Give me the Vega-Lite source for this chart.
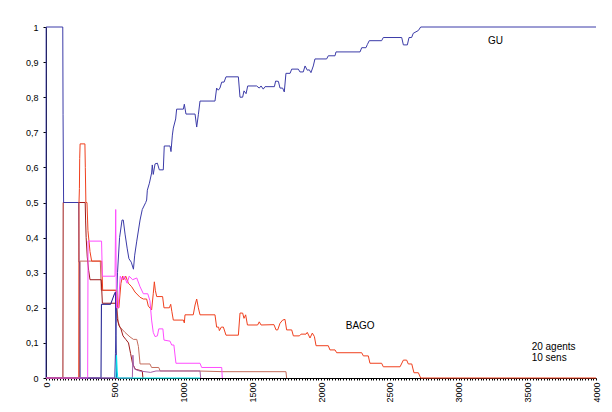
{
"$schema":"https://vega.github.io/schema/vega-lite/v6.json",
"width":599,"height":404,"autosize":"none",
"padding":{"left":13,"top":8,"right":0,"bottom":0},
"background":"white",
"config":{"view":{"stroke":null},"font":"Liberation Sans"},
"datasets":{
"lines":[
{"s":"salmon","x":0,"y":0},{"s":"salmon","x":244,"y":0},{"s":"salmon","x":247,"y":0.333},{"s":"salmon","x":395,"y":0.333},{"s":"salmon","x":402,"y":0.25},{"s":"salmon","x":508,"y":0.25},{"s":"salmon","x":515,"y":0.2},{"s":"salmon","x":525,"y":0.16},{"s":"salmon","x":538,"y":0.145},{"s":"salmon","x":574,"y":0.13},{"s":"salmon","x":611,"y":0.117},{"s":"salmon","x":636,"y":0.11},{"s":"salmon","x":660,"y":0.11},{"s":"salmon","x":672,"y":0.09},{"s":"salmon","x":684,"y":0.04},{"s":"salmon","x":756,"y":0.04},{"s":"salmon","x":768,"y":0.03},{"s":"salmon","x":820,"y":0.03},{"s":"salmon","x":830,"y":0.02},{"s":"salmon","x":1100,"y":0.02},{"s":"salmon","x":1287,"y":0.018},{"s":"salmon","x":1745,"y":0.018},{"s":"salmon","x":1750,"y":0},
{"s":"darkred","x":0,"y":0},{"s":"darkred","x":123,"y":0},{"s":"darkred","x":125,"y":0.5},{"s":"darkred","x":285,"y":0.5},{"s":"darkred","x":288,"y":0.45},{"s":"darkred","x":292,"y":0.4},{"s":"darkred","x":300,"y":0.345},{"s":"darkred","x":310,"y":0.307},{"s":"darkred","x":320,"y":0.28},{"s":"darkred","x":402,"y":0.28},{"s":"darkred","x":410,"y":0.213},{"s":"darkred","x":512,"y":0.213},{"s":"darkred","x":518,"y":0.17},{"s":"darkred","x":530,"y":0.15},{"s":"darkred","x":545,"y":0.14},{"s":"darkred","x":560,"y":0.12},{"s":"darkred","x":580,"y":0.11},{"s":"darkred","x":600,"y":0.1},{"s":"darkred","x":615,"y":0.07},{"s":"darkred","x":630,"y":0.04},{"s":"darkred","x":650,"y":0.025},{"s":"darkred","x":700,"y":0.02},{"s":"darkred","x":705,"y":0},
{"s":"navy2","x":0,"y":0},{"s":"navy2","x":400,"y":0},{"s":"navy2","x":403,"y":0.21},{"s":"navy2","x":470,"y":0.21},{"s":"navy2","x":498,"y":0.24},{"s":"navy2","x":505,"y":0.245},{"s":"navy2","x":509,"y":0.12},{"s":"navy2","x":513,"y":0},
{"s":"GU","x":0,"y":0},{"s":"GU","x":1,"y":1},{"s":"GU","x":122,"y":1},{"s":"GU","x":124,"y":0.75},{"s":"GU","x":128,"y":0.5},{"s":"GU","x":238,"y":0.5},{"s":"GU","x":240,"y":0.33},{"s":"GU","x":245,"y":0.33},{"s":"GU","x":248,"y":0},{"s":"GU","x":500,"y":0},{"s":"GU","x":505,"y":0.07},{"s":"GU","x":512,"y":0.2},{"s":"GU","x":520,"y":0.3},{"s":"GU","x":535,"y":0.4},{"s":"GU","x":553,"y":0.45},{"s":"GU","x":562,"y":0.45},{"s":"GU","x":575,"y":0.41},{"s":"GU","x":590,"y":0.37},{"s":"GU","x":603,"y":0.34},{"s":"GU","x":620,"y":0.33},{"s":"GU","x":636,"y":0.31},{"s":"GU","x":645,"y":0.35},{"s":"GU","x":660,"y":0.39},{"s":"GU","x":684,"y":0.45},{"s":"GU","x":700,"y":0.48},{"s":"GU","x":725,"y":0.5},{"s":"GU","x":732,"y":0.507},{"s":"GU","x":737,"y":0.535},{"s":"GU","x":752,"y":0.555},{"s":"GU","x":768,"y":0.584},{"s":"GU","x":773,"y":0.607},{"s":"GU","x":780,"y":0.58},{"s":"GU","x":793,"y":0.61},{"s":"GU","x":810,"y":0.612},{"s":"GU","x":824,"y":0.593},{"s":"GU","x":853,"y":0.593},{"s":"GU","x":860,"y":0.661},{"s":"GU","x":902,"y":0.661},{"s":"GU","x":909,"y":0.645},{"s":"GU","x":919,"y":0.692},{"s":"GU","x":926,"y":0.712},{"s":"GU","x":943,"y":0.738},{"s":"GU","x":950,"y":0.766},{"s":"GU","x":999,"y":0.766},{"s":"GU","x":1006,"y":0.78},{"s":"GU","x":1018,"y":0.752},{"s":"GU","x":1084,"y":0.752},{"s":"GU","x":1096,"y":0.715},{"s":"GU","x":1108,"y":0.75},{"s":"GU","x":1120,"y":0.789},{"s":"GU","x":1229,"y":0.789},{"s":"GU","x":1241,"y":0.826},{"s":"GU","x":1253,"y":0.82},{"s":"GU","x":1265,"y":0.826},{"s":"GU","x":1278,"y":0.843},{"s":"GU","x":1295,"y":0.843},{"s":"GU","x":1309,"y":0.858},{"s":"GU","x":1399,"y":0.858},{"s":"GU","x":1411,"y":0.8},{"s":"GU","x":1430,"y":0.8},{"s":"GU","x":1440,"y":0.818},{"s":"GU","x":1455,"y":0.81},{"s":"GU","x":1467,"y":0.832},{"s":"GU","x":1532,"y":0.832},{"s":"GU","x":1551,"y":0.826},{"s":"GU","x":1564,"y":0.832},{"s":"GU","x":1580,"y":0.823},{"s":"GU","x":1593,"y":0.83},{"s":"GU","x":1661,"y":0.83},{"s":"GU","x":1670,"y":0.846},{"s":"GU","x":1690,"y":0.845},{"s":"GU","x":1702,"y":0.826},{"s":"GU","x":1721,"y":0.826},{"s":"GU","x":1733,"y":0.815},{"s":"GU","x":1745,"y":0.868},{"s":"GU","x":1775,"y":0.868},{"s":"GU","x":1787,"y":0.88},{"s":"GU","x":1835,"y":0.88},{"s":"GU","x":1847,"y":0.872},{"s":"GU","x":1871,"y":0.872},{"s":"GU","x":1884,"y":0.889},{"s":"GU","x":1900,"y":0.877},{"s":"GU","x":1915,"y":0.878},{"s":"GU","x":1927,"y":0.87},{"s":"GU","x":1944,"y":0.889},{"s":"GU","x":1956,"y":0.909},{"s":"GU","x":2041,"y":0.909},{"s":"GU","x":2053,"y":0.918},{"s":"GU","x":2102,"y":0.918},{"s":"GU","x":2109,"y":0.929},{"s":"GU","x":2284,"y":0.929},{"s":"GU","x":2296,"y":0.941},{"s":"GU","x":2327,"y":0.941},{"s":"GU","x":2337,"y":0.95},{"s":"GU","x":2351,"y":0.961},{"s":"GU","x":2441,"y":0.961},{"s":"GU","x":2453,"y":0.97},{"s":"GU","x":2587,"y":0.97},{"s":"GU","x":2599,"y":0.949},{"s":"GU","x":2628,"y":0.949},{"s":"GU","x":2640,"y":0.97},{"s":"GU","x":2659,"y":0.97},{"s":"GU","x":2671,"y":0.982},{"s":"GU","x":2708,"y":0.99},{"s":"GU","x":2725,"y":1},{"s":"GU","x":4000,"y":1},
{"s":"BAGO","x":0,"y":0},{"s":"BAGO","x":238,"y":0},{"s":"BAGO","x":240,"y":0.5},{"s":"BAGO","x":243,"y":0.54},{"s":"BAGO","x":245,"y":0.625},{"s":"BAGO","x":248,"y":0.667},{"s":"BAGO","x":283,"y":0.667},{"s":"BAGO","x":286,"y":0.6},{"s":"BAGO","x":290,"y":0.5},{"s":"BAGO","x":298,"y":0.5},{"s":"BAGO","x":305,"y":0.42},{"s":"BAGO","x":320,"y":0.36},{"s":"BAGO","x":332,"y":0.333},{"s":"BAGO","x":405,"y":0.333},{"s":"BAGO","x":412,"y":0.25},{"s":"BAGO","x":514,"y":0.25},{"s":"BAGO","x":520,"y":0.2},{"s":"BAGO","x":530,"y":0.2},{"s":"BAGO","x":545,"y":0.27},{"s":"BAGO","x":557,"y":0.29},{"s":"BAGO","x":565,"y":0.28},{"s":"BAGO","x":580,"y":0.29},{"s":"BAGO","x":599,"y":0.27},{"s":"BAGO","x":623,"y":0.26},{"s":"BAGO","x":647,"y":0.245},{"s":"BAGO","x":684,"y":0.23},{"s":"BAGO","x":708,"y":0.225},{"s":"BAGO","x":732,"y":0.225},{"s":"BAGO","x":744,"y":0.205},{"s":"BAGO","x":768,"y":0.194},{"s":"BAGO","x":780,"y":0.24},{"s":"BAGO","x":788,"y":0.274},{"s":"BAGO","x":795,"y":0.25},{"s":"BAGO","x":805,"y":0.232},{"s":"BAGO","x":848,"y":0.232},{"s":"BAGO","x":858,"y":0.2},{"s":"BAGO","x":897,"y":0.2},{"s":"BAGO","x":907,"y":0.21},{"s":"BAGO","x":915,"y":0.19},{"s":"BAGO","x":926,"y":0.165},{"s":"BAGO","x":999,"y":0.165},{"s":"BAGO","x":1006,"y":0.157},{"s":"BAGO","x":1011,"y":0.18},{"s":"BAGO","x":1071,"y":0.18},{"s":"BAGO","x":1084,"y":0.208},{"s":"BAGO","x":1096,"y":0.225},{"s":"BAGO","x":1108,"y":0.2},{"s":"BAGO","x":1120,"y":0.18},{"s":"BAGO","x":1229,"y":0.18},{"s":"BAGO","x":1241,"y":0.145},{"s":"BAGO","x":1255,"y":0.145},{"s":"BAGO","x":1261,"y":0.135},{"s":"BAGO","x":1275,"y":0.145},{"s":"BAGO","x":1290,"y":0.145},{"s":"BAGO","x":1309,"y":0.122},{"s":"BAGO","x":1399,"y":0.122},{"s":"BAGO","x":1411,"y":0.185},{"s":"BAGO","x":1430,"y":0.185},{"s":"BAGO","x":1440,"y":0.17},{"s":"BAGO","x":1452,"y":0.18},{"s":"BAGO","x":1465,"y":0.151},{"s":"BAGO","x":1539,"y":0.151},{"s":"BAGO","x":1551,"y":0.16},{"s":"BAGO","x":1564,"y":0.151},{"s":"BAGO","x":1658,"y":0.152},{"s":"BAGO","x":1673,"y":0.137},{"s":"BAGO","x":1685,"y":0.137},{"s":"BAGO","x":1702,"y":0.156},{"s":"BAGO","x":1721,"y":0.165},{"s":"BAGO","x":1738,"y":0.167},{"s":"BAGO","x":1750,"y":0.137},{"s":"BAGO","x":1787,"y":0.137},{"s":"BAGO","x":1799,"y":0.12},{"s":"BAGO","x":1843,"y":0.12},{"s":"BAGO","x":1855,"y":0.125},{"s":"BAGO","x":1891,"y":0.125},{"s":"BAGO","x":1900,"y":0.13},{"s":"BAGO","x":1920,"y":0.114},{"s":"BAGO","x":1937,"y":0.128},{"s":"BAGO","x":1952,"y":0.118},{"s":"BAGO","x":1964,"y":0.092},{"s":"BAGO","x":2053,"y":0.092},{"s":"BAGO","x":2065,"y":0.08},{"s":"BAGO","x":2102,"y":0.08},{"s":"BAGO","x":2114,"y":0.072},{"s":"BAGO","x":2296,"y":0.072},{"s":"BAGO","x":2308,"y":0.063},{"s":"BAGO","x":2344,"y":0.063},{"s":"BAGO","x":2356,"y":0.042},{"s":"BAGO","x":2441,"y":0.042},{"s":"BAGO","x":2453,"y":0.032},{"s":"BAGO","x":2575,"y":0.032},{"s":"BAGO","x":2599,"y":0.051},{"s":"BAGO","x":2623,"y":0.051},{"s":"BAGO","x":2635,"y":0.04},{"s":"BAGO","x":2660,"y":0.04},{"s":"BAGO","x":2676,"y":0.015},{"s":"BAGO","x":2708,"y":0.015},{"s":"BAGO","x":2725,"y":0},{"s":"BAGO","x":4000,"y":0},
{"s":"pink","x":0,"y":0},{"s":"pink","x":303,"y":0},{"s":"pink","x":306,"y":0.39},{"s":"pink","x":404,"y":0.39},{"s":"pink","x":410,"y":0.29},{"s":"pink","x":502,"y":0.29},{"s":"pink","x":507,"y":0.48},{"s":"pink","x":512,"y":0.2},{"s":"pink","x":525,"y":0.2},{"s":"pink","x":540,"y":0.29},{"s":"pink","x":555,"y":0.28},{"s":"pink","x":567,"y":0.29},{"s":"pink","x":590,"y":0.27},{"s":"pink","x":605,"y":0.29},{"s":"pink","x":630,"y":0.28},{"s":"pink","x":660,"y":0.285},{"s":"pink","x":684,"y":0.26},{"s":"pink","x":708,"y":0.24},{"s":"pink","x":740,"y":0.24},{"s":"pink","x":756,"y":0.22},{"s":"pink","x":768,"y":0.165},{"s":"pink","x":780,"y":0.13},{"s":"pink","x":793,"y":0.118},{"s":"pink","x":810,"y":0.12},{"s":"pink","x":820,"y":0.14},{"s":"pink","x":850,"y":0.14},{"s":"pink","x":858,"y":0.108},{"s":"pink","x":902,"y":0.105},{"s":"pink","x":914,"y":0.094},{"s":"pink","x":930,"y":0.094},{"s":"pink","x":945,"y":0.042},{"s":"pink","x":1120,"y":0.042},{"s":"pink","x":1132,"y":0.03},{"s":"pink","x":1278,"y":0.03},{"s":"pink","x":1282,"y":0},
{"s":"purple","x":0,"y":0},{"s":"purple","x":628,"y":0},{"s":"purple","x":632,"y":0.065},{"s":"purple","x":637,"y":0.035},{"s":"purple","x":645,"y":0.025},{"s":"purple","x":680,"y":0.02},{"s":"purple","x":760,"y":0.016},{"s":"purple","x":800,"y":0.02},{"s":"purple","x":1120,"y":0.02},{"s":"purple","x":1125,"y":0},
{"s":"cyan","x":509,"y":0},{"s":"cyan","x":513,"y":0.065},{"s":"cyan","x":518,"y":0.02},{"s":"cyan","x":522,"y":0},{"s":"cyan","x":1120,"y":0}
],
"notes":[
{"label":"GU","x":3215,"y":0.96},
{"label":"BAGO","x":2180,"y":0.149},
{"label":"20 agents","x":3532,"y":0.089},
{"label":"10 sens","x":3532,"y":0.0556}
]},
"layer":[
{"data":{"name":"lines"},"mark":{"type":"line","strokeWidth":1,"interpolate":"linear"},
 "encoding":{
  "x":{"field":"x","type":"quantitative","scale":{"domain":[0,4000],"nice":false,"zero":false,"range":[33,583]},
   "axis":{"title":null,"grid":false,"offset":-34,"tickCount":200,"tickSize":2,"tickColor":"#000000","domainColor":"#000000","labelAngle":-90,"labelPadding":2,"labelFlush":false,"labelOverlap":false,"labelFontSize":9,"labelFont":"Liberation Sans","labelColor":"#000000","labelExpr":"datum.value % 500 === 0 ? format(datum.value, 'd') : ''"}},
  "y":{"field":"y","type":"quantitative","scale":{"domain":[0,1],"nice":false,"range":[370,19]},
   "axis":{"title":null,"grid":false,"offset":-33,"values":[0,0.1,0.2,0.3,0.4,0.5,0.6,0.7,0.8,0.9,1],"format":".1~f","labelExpr":"replace(datum.label, '.', ',')","tickSize":3,"tickColor":"#000000","domainColor":"#000000","labelPadding":5,"labelOverlap":false,"labelFontSize":9,"labelFont":"Liberation Sans","labelColor":"#000000","labelFlush":false}},
  "color":{"field":"s","type":"nominal","legend":null,
   "scale":{"domain":["salmon","darkred","navy2","GU","BAGO","pink","purple","cyan"],
            "range":["#c46e5e","#9e1a1a","#14148c","#3b3ba8","#f0401e","#ff4cff","#a460a8","#00e8ee"]}}
 }},
{"data":{"name":"notes"},"mark":{"type":"text","align":"left","baseline":"middle","fontSize":10,"font":"Liberation Sans","color":"#000000"},
 "encoding":{"x":{"field":"x","type":"quantitative"},"y":{"field":"y","type":"quantitative"},"text":{"field":"label"}}}
]
}
